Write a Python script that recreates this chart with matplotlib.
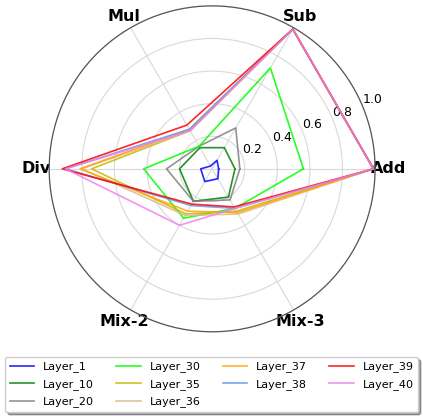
import numpy as np
import matplotlib
matplotlib.use("Agg")
import matplotlib.pyplot as plt

categories = ["Add", "Sub", "Mul", "Div", "Mix-2", "Mix-3"]
layers = ["Layer_1", "Layer_10", "Layer_20", "Layer_30", "Layer_35",
          "Layer_36", "Layer_37", "Layer_38", "Layer_39", "Layer_40"]
colors = ["blue", "green", "gray", "lime", "#c8b400",
          "burlywood", "orange", "cornflowerblue", "red", "violet"]

layer_1  = [0.04, 0.06, 0.02, 0.07, 0.09, 0.07]
layer_10 = [0.14, 0.15, 0.15, 0.20, 0.23, 0.20]
layer_20 = [0.17, 0.29, 0.16, 0.28, 0.23, 0.22]
layer_30 = [0.56, 0.715, 0.16, 0.42, 0.35, 0.28]
layer_35 = [0.99, 0.99, 0.27, 0.74, 0.32, 0.30]
layer_36 = [0.99, 0.99, 0.27, 0.80, 0.33, 0.32]
layer_37 = [0.99, 0.99, 0.28, 0.81, 0.30, 0.31]
layer_38 = [0.99, 0.99, 0.28, 0.90, 0.26, 0.28]
layer_39 = [0.99, 0.99, 0.31, 0.92, 0.25, 0.27]
layer_40 = [0.99, 0.99, 0.27, 0.90, 0.40, 0.28]
values = [layer_1, layer_10, layer_20, layer_30, layer_35,
          layer_36, layer_37, layer_38, layer_39, layer_40]

angles = np.linspace(0, 2 * np.pi, len(categories), endpoint=False)
closed = np.concatenate([angles, angles[:1]])

fig = plt.figure(figsize=(4.23, 4.20), dpi=100)
ax = fig.add_axes([0.116, 0.210, 0.771, 0.776], polar=True)

for name, col, v in zip(layers, colors, values):
    vv = np.concatenate([v, v[:1]])
    ax.plot(closed, vv, color=col, linewidth=1.2, alpha=0.85, label=name)

ax.set_ylim(0, 1.0)
ax.set_xticks(angles)
ax.set_xticklabels(categories, fontsize=11.5, fontweight="bold")
ax.tick_params(axis="x", pad=-1)
ax.set_yticks([0.2, 0.4, 0.6, 0.8, 1.0])
ax.set_yticklabels(["0.2", "0.4", "0.6", "0.8", "1.0"], fontsize=9)
ax.grid(True, color="#d9d9d9", linewidth=0.8)
ax.spines["polar"].set_color("#555555")
ax.spines["polar"].set_linewidth(0.9)

fig.legend(loc="upper center", bbox_to_anchor=(0.012, 0.0, 0.976, 0.15),
           mode="expand", ncol=4,
           fontsize=8, fancybox=True, shadow=True, frameon=True,
           handlelength=2.2, handletextpad=0.8, labelspacing=0.6,
           borderaxespad=0)

fig.savefig("out.png", dpi=100)
